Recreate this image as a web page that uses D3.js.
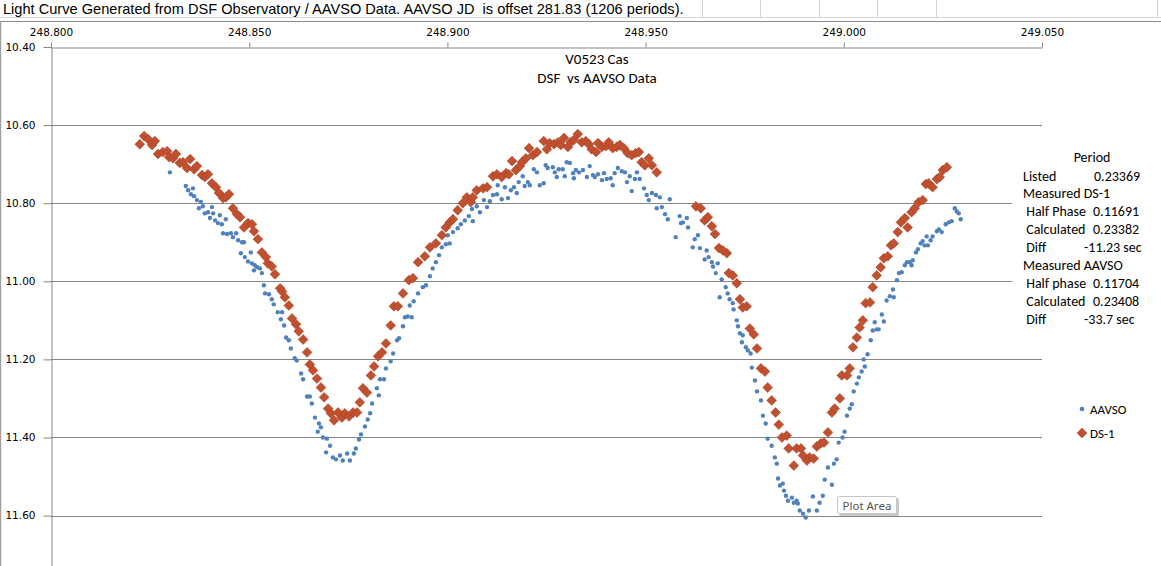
<!DOCTYPE html>
<html><head><meta charset="utf-8">
<script src="https://cdn.jsdelivr.net/npm/d3@7"></script>
<style>
body{margin:0;background:#fff;}
svg{display:block;}
text{white-space:pre;}
</style>
</head><body>
<svg id="c" width="1161" height="566"></svg>
<script>
const headerText = "Light Curve Generated from DSF Observatory / AAVSO Data. AAVSO JD  is offset 281.83 (1206 periods).";
const chartTitle = ["V0523 Cas", "DSF  vs AAVSO Data"];
const xTicks = [248.80, 248.85, 248.90, 248.95, 249.00, 249.05];
const yTicks = [10.4, 10.6, 10.8, 11.0, 11.2, 11.4, 11.6];
const seriesNames = ["AAVSO", "DS-1"];
const noteTitle = "Period";
const noteLabels = ["Listed", "Measured DS-1", " Half Phase", " Calculated", " Diff", "Measured AAVSO", " Half phase", " Calculated", " Diff"];
const noteValues = ["0.23369", "", "0.11691", "0.23382", "-11.23 sec", "", "0.11704", "0.23408", "-33.7 sec"];

const aavso = [
[248.8300,10.721],[248.8340,10.756],[248.8346,10.767],[248.8353,10.777],[248.8358,10.762],[248.8361,10.782],
[248.8368,10.792],[248.8373,10.813],[248.8378,10.797],[248.8383,10.808],[248.8388,10.826],[248.8396,10.823],
[248.8401,10.838],[248.8406,10.810],[248.8409,10.826],[248.8414,10.844],[248.8421,10.851],[248.8426,10.831],
[248.8431,10.854],[248.8434,10.877],[248.8441,10.841],[248.8444,10.879],[248.8454,10.877],[248.8459,10.887],
[248.8467,10.877],[248.8472,10.895],[248.8479,10.928],[248.8482,10.900],[248.8487,10.900],[248.8489,10.938],
[248.8497,10.949],[248.8504,10.926],[248.8507,10.954],[248.8512,10.972],[248.8514,10.959],[248.8520,10.964],
[248.8527,10.967],[248.8532,10.979],[248.8537,11.010],[248.8540,11.031],[248.8550,11.033],[248.8557,11.046],
[248.8562,11.059],[248.8572,11.079],[248.8580,11.097],[248.8583,11.079],[248.8588,11.113],[248.8593,11.144],
[248.8600,11.151],[248.8605,11.172],[248.8615,11.197],[248.8620,11.203],[248.8631,11.236],[248.8636,11.251],
[248.8646,11.295],[248.8653,11.295],[248.8658,11.313],[248.8666,11.349],[248.8673,11.385],[248.8676,11.364],
[248.8681,11.374],[248.8686,11.400],[248.8694,11.438],[248.8696,11.403],[248.8704,11.421],[248.8711,11.451],
[248.8719,11.456],[248.8729,11.446],[248.8736,11.459],[248.8747,11.441],[248.8754,11.459],[248.8764,11.441],
[248.8769,11.428],[248.8777,11.405],[248.8782,11.392],[248.8792,11.372],[248.8799,11.354],[248.8805,11.338],
[248.8810,11.313],[248.8822,11.274],[248.8827,11.292],[248.8830,11.251],[248.8840,11.251],[248.8845,11.223],
[248.8857,11.205],[248.8863,11.185],[248.8873,11.151],[248.8878,11.146],[248.8888,11.115],[248.8893,11.092],
[248.8900,11.090],[248.8905,11.062],[248.8910,11.092],[248.8915,11.051],[248.8926,11.031],[248.8938,11.015],
[248.8946,11.010],[248.8956,10.987],[248.8963,10.967],[248.8971,10.951],[248.8979,10.933],[248.8986,10.913],
[248.8996,10.905],[248.9001,10.882],[248.9006,10.903],[248.9014,10.874],[248.9026,10.864],[248.9034,10.854],
[248.9044,10.844],[248.9054,10.833],[248.9062,10.815],[248.9064,10.846],[248.9074,10.808],[248.9082,10.823],
[248.9092,10.792],[248.9100,10.810],[248.9107,10.795],[248.9115,10.779],[248.9125,10.777],[248.9127,10.754],
[248.9137,10.790],[248.9145,10.759],[248.9153,10.787],[248.9160,10.767],[248.9168,10.759],[248.9175,10.774],
[248.9180,10.746],[248.9190,10.731],[248.9195,10.756],[248.9203,10.746],[248.9208,10.754],[248.9218,10.713],
[248.9226,10.721],[248.9233,10.754],[248.9243,10.749],[248.9248,10.703],[248.9253,10.710],[248.9266,10.708],
[248.9271,10.721],[248.9276,10.733],[248.9281,10.713],[248.9291,10.713],[248.9296,10.731],[248.9301,10.695],
[248.9309,10.697],[248.9317,10.723],[248.9319,10.736],[248.9324,10.715],[248.9332,10.721],[248.9342,10.715],
[248.9352,10.733],[248.9359,10.705],[248.9367,10.728],[248.9372,10.733],[248.9380,10.726],[248.9390,10.741],
[248.9395,10.723],[248.9402,10.738],[248.9412,10.736],[248.9417,10.754],[248.9422,10.723],[248.9430,10.710],
[248.9440,10.718],[248.9448,10.721],[248.9453,10.746],[248.9460,10.731],[248.9465,10.769],[248.9473,10.738],
[248.9478,10.721],[248.9485,10.738],[248.9496,10.762],[248.9503,10.779],[248.9508,10.792],[248.9516,10.774],
[248.9526,10.779],[248.9528,10.813],[248.9536,10.785],[248.9541,10.810],[248.9549,10.828],[248.9556,10.841],
[248.9561,10.790],[248.9576,10.887],[248.9586,10.833],[248.9589,10.851],[248.9594,10.849],[248.9604,10.838],
[248.9607,10.862],[248.9619,10.913],[248.9624,10.892],[248.9632,10.882],[248.9637,10.915],[248.9649,10.944],
[248.9654,10.921],[248.9659,10.938],[248.9667,10.951],[248.9670,10.962],[248.9677,10.979],[248.9682,10.954],
[248.9687,11.041],[248.9692,10.995],[248.9702,11.015],[248.9707,11.031],[248.9712,11.046],[248.9720,11.056],
[248.9722,11.072],[248.9730,11.100],[248.9733,11.115],[248.9738,11.133],[248.9743,11.156],[248.9745,11.138],
[248.9753,11.169],[248.9758,11.177],[248.9765,11.185],[248.9768,11.221],[248.9776,11.254],[248.9781,11.282],
[248.9791,11.305],[248.9796,11.344],[248.9803,11.364],[248.9808,11.403],[248.9818,11.421],[248.9826,11.451],
[248.9831,11.467],[248.9834,11.505],[248.9839,11.523],[248.9846,11.518],[248.9849,11.536],[248.9854,11.549],
[248.9859,11.562],[248.9869,11.554],[248.9874,11.567],[248.9881,11.562],[248.9884,11.569],[248.9889,11.587],
[248.9897,11.595],[248.9904,11.605],[248.9912,11.587],[248.9922,11.551],[248.9932,11.587],[248.9939,11.567],
[248.9947,11.549],[248.9952,11.508],[248.9960,11.477],[248.9970,11.521],[248.9975,11.467],[248.9982,11.456],
[248.9987,11.413],[248.9997,11.400],[249.0002,11.385],[249.0008,11.344],[249.0015,11.326],[249.0020,11.315],
[249.0025,11.282],[249.0033,11.262],[249.0038,11.246],[249.0045,11.231],[249.0050,11.200],[249.0053,11.218],
[249.0060,11.187],[249.0068,11.151],[249.0073,11.126],[249.0078,11.105],[249.0083,11.123],[249.0088,11.123],
[249.0096,11.085],[249.0101,11.103],[249.0108,11.049],[249.0116,11.038],[249.0124,11.021],[249.0126,11.041],
[249.0134,10.997],[249.0139,10.979],[249.0146,10.977],[249.0154,10.959],[249.0159,10.951],[249.0166,10.951],
[249.0171,10.959],[249.0174,10.946],[249.0182,10.926],[249.0187,10.918],[249.0194,10.903],[249.0199,10.897],
[249.0204,10.908],[249.0209,10.885],[249.0212,10.908],[249.0219,10.895],[249.0224,10.885],[249.0235,10.872],
[249.0240,10.867],[249.0247,10.874],[249.0257,10.854],[249.0265,10.849],[249.0272,10.846],[249.0280,10.813],
[249.0285,10.821],[249.0290,10.826],[249.0295,10.841]
];

const ds1 = [
[248.8224,10.649],[248.8235,10.628],[248.8245,10.636],[248.8255,10.651],[248.8262,10.641],[248.8270,10.674],
[248.8282,10.669],[248.8293,10.667],[248.8298,10.682],[248.8308,10.685],[248.8315,10.674],[248.8325,10.697],
[248.8333,10.695],[248.8343,10.710],[248.8351,10.687],[248.8361,10.713],[248.8368,10.705],[248.8381,10.728],
[248.8388,10.733],[248.8396,10.726],[248.8406,10.749],[248.8416,10.759],[248.8424,10.774],[248.8434,10.787],
[248.8441,10.785],[248.8449,10.777],[248.8459,10.813],[248.8469,10.828],[248.8477,10.836],[248.8487,10.862],
[248.8497,10.851],[248.8507,10.854],[248.8512,10.872],[248.8522,10.892],[248.8532,10.926],[248.8542,10.938],
[248.8547,10.954],[248.8557,10.962],[248.8565,10.982],[248.8578,11.018],[248.8583,11.026],[248.8590,11.041],
[248.8600,11.062],[248.8608,11.095],[248.8618,11.110],[248.8625,11.128],[248.8636,11.149],[248.8646,11.182],
[248.8653,11.213],[248.8661,11.228],[248.8671,11.249],[248.8681,11.272],[248.8689,11.297],[248.8699,11.326],
[248.8706,11.338],[248.8714,11.356],[248.8724,11.336],[248.8734,11.349],[248.8741,11.338],[248.8752,11.346],
[248.8762,11.336],[248.8772,11.336],[248.8779,11.310],[248.8787,11.274],[248.8797,11.285],[248.8807,11.241],
[248.8815,11.218],[248.8825,11.192],[248.8835,11.182],[248.8845,11.159],[248.8857,11.113],[248.8865,11.064],
[248.8875,11.064],[248.8888,11.031],[248.8903,10.997],[248.8913,10.992],[248.8926,10.951],[248.8943,10.936],
[248.8956,10.913],[248.8971,10.903],[248.8986,10.882],[248.8996,10.862],[248.9006,10.849],[248.9014,10.841],
[248.9026,10.818],[248.9039,10.800],[248.9049,10.785],[248.9059,10.797],[248.9064,10.785],[248.9074,10.767],
[248.9090,10.762],[248.9100,10.759],[248.9115,10.731],[248.9125,10.726],[248.9137,10.733],[248.9148,10.723],
[248.9155,10.726],[248.9163,10.692],[248.9173,10.715],[248.9183,10.705],[248.9188,10.695],[248.9198,10.685],
[248.9206,10.659],[248.9216,10.677],[248.9226,10.669],[248.9243,10.641],[248.9251,10.662],[248.9258,10.646],
[248.9269,10.649],[248.9279,10.644],[248.9286,10.651],[248.9294,10.633],[248.9304,10.656],[248.9311,10.644],
[248.9319,10.638],[248.9329,10.623],[248.9339,10.644],[248.9349,10.641],[248.9357,10.649],[248.9364,10.662],
[248.9375,10.669],[248.9380,10.646],[248.9390,10.656],[248.9400,10.654],[248.9407,10.644],[248.9417,10.659],
[248.9427,10.656],[248.9435,10.651],[248.9445,10.659],[248.9455,10.672],[248.9465,10.677],[248.9475,10.672],
[248.9483,10.669],[248.9490,10.695],[248.9498,10.703],[248.9508,10.685],[248.9516,10.703],[248.9528,10.721],
[248.9627,10.808],[248.9639,10.813],[248.9649,10.844],[248.9657,10.836],[248.9667,10.859],[248.9675,10.879],
[248.9685,10.915],[248.9695,10.921],[248.9705,10.928],[248.9710,10.979],[248.9720,10.985],[248.9730,11.005],
[248.9738,11.046],[248.9745,11.067],[248.9755,11.064],[248.9763,11.121],[248.9773,11.136],[248.9781,11.172],
[248.9791,11.223],[248.9801,11.231],[248.9808,11.272],[248.9818,11.305],[248.9828,11.336],[248.9836,11.367],
[248.9844,11.400],[248.9856,11.395],[248.9861,11.428],[248.9874,11.472],[248.9881,11.428],[248.9892,11.428],
[248.9897,11.446],[248.9907,11.459],[248.9914,11.451],[248.9924,11.454],[248.9932,11.423],[248.9942,11.415],
[248.9950,11.413],[248.9960,11.387],[248.9970,11.336],[248.9977,11.326],[248.9990,11.300],[248.9995,11.241],
[249.0008,11.241],[249.0015,11.223],[249.0023,11.169],[249.0033,11.144],[249.0040,11.118],[249.0048,11.100],
[249.0055,11.056],[249.0066,11.054],[249.0073,11.015],[249.0083,10.985],[249.0093,10.964],[249.0101,10.941],
[249.0111,10.936],[249.0119,10.908],[249.0126,10.903],[249.0136,10.874],[249.0144,10.849],[249.0154,10.838],
[249.0161,10.862],[249.0171,10.823],[249.0179,10.813],[249.0189,10.797],[249.0199,10.792],[249.0207,10.751],
[249.0214,10.749],[249.0224,10.759],[249.0235,10.738],[249.0242,10.733],[249.0250,10.715],[249.0260,10.708]
];

const svg = d3.select("#c");
const W = 1161, H = 566;
const axisColor = "#868686";
const blue = "#4f81bd";
const red = "#c0502e";
const redStroke = "#a9442a";
const calibri = "Carlito, Lato, 'Open Sans', sans-serif";
const tickFont = "'DejaVu Sans', sans-serif";

svg.append("rect").attr("width", W).attr("height", H).attr("fill", "#fff");

// spreadsheet header row
svg.append("text").attr("x", 3).attr("y", 14)
  .attr("font-family", "'Liberation Sans', Arial, sans-serif").attr("font-size", 14.6)
  .attr("fill", "#000").text(headerText);
svg.append("line").attr("x1", 0).attr("x2", W).attr("y1", 17.5).attr("y2", 17.5)
  .attr("stroke", "#d4d4d4");
[702, 760, 819, 877, 936, 1157].forEach(cx => {
  svg.append("line").attr("x1", cx + 0.5).attr("x2", cx + 0.5).attr("y1", 0).attr("y2", 17)
    .attr("stroke", "#d4d4d4");
});
// chart border
svg.append("line").attr("x1", 0).attr("x2", W).attr("y1", 21.5).attr("y2", 21.5)
  .attr("stroke", "#8c8c8c").attr("stroke-width", 1.2);
svg.append("line").attr("x1", 0.5).attr("x2", 0.5).attr("y1", 21).attr("y2", H)
  .attr("stroke", "#a0a0a0").attr("stroke-width", 1.5);

const x = d3.scaleLinear().domain([248.8, 249.05]).range([51, 1042]);
const y = d3.scaleLinear().domain([10.4, 11.8]).range([47, 47 + 78.1 * 7]);

// gridlines
svg.append("g").selectAll("line").data(yTicks.slice(1)).join("line")
  .attr("x1", x(248.8)).attr("x2", x(249.05))
  .attr("y1", d => Math.round(y(d)) + 0.5).attr("y2", d => Math.round(y(d)) + 0.5)
  .attr("stroke", axisColor).attr("stroke-width", 1);

// top x axis
const xa = svg.append("g").attr("transform", `translate(0,${Math.round(y(10.4)) + 0.5})`)
  .call(d3.axisTop(x).tickValues(xTicks).tickFormat(d3.format(".3f")).tickSize(5).tickSizeOuter(0).tickPadding(7));
xa.select(".domain").attr("stroke", axisColor);
xa.selectAll(".tick line").attr("stroke", axisColor);
xa.selectAll(".tick text").attr("font-family", tickFont).attr("font-size", 10.5).attr("fill", "#000");

// left y axis
const ya = svg.append("g").attr("transform", `translate(${Math.round(x(248.8)) + 0.5},0)`)
  .call(d3.axisLeft(y).tickValues(yTicks).tickFormat(d3.format(".2f")).tickSize(8).tickSizeOuter(0).tickPadding(8));
ya.select(".domain").attr("stroke", axisColor);
ya.selectAll(".tick line").attr("stroke", axisColor);
ya.selectAll(".tick text").attr("font-family", tickFont).attr("font-size", 10.5).attr("fill", "#000");

// title
chartTitle.forEach((t, i) => {
  svg.append("text").attr("x", 597).attr("y", 63.5 + i * 19.5).attr("text-anchor", "middle")
    .attr("font-family", calibri).attr("font-size", 15).attr("fill", "#000").text(t);
});

// series
const diamond = s => `M0,${-s}L${s},0L0,${s}L${-s},0Z`;
svg.append("g").selectAll("circle").data(aavso).join("circle")
  .attr("cx", d => x(d[0])).attr("cy", d => y(d[1])).attr("r", 2.2)
  .attr("fill", blue);
svg.append("g").selectAll("path").data(ds1).join("path")
  .attr("transform", d => `translate(${x(d[0])},${y(d[1])})`)
  .attr("d", diamond(4.9))
  .attr("fill", red).attr("stroke", redStroke).attr("stroke-width", 0.6);

// text box with period notes
svg.append("rect").attr("x", 1012).attr("y", 146).attr("width", 149).attr("height", 184).attr("fill", "#fff");
svg.append("text").attr("x", 1092).attr("y", 162).attr("text-anchor", "middle")
  .attr("font-family", calibri).attr("font-size", 14).text(noteTitle);
noteLabels.forEach((lab, i) => {
  const yy = 180.5 + i * 17.9;
  svg.append("text").attr("x", 1023).attr("y", yy)
    .attr("font-family", calibri).attr("font-size", 14).text(lab);
  if (noteValues[i]) {
    const v = noteValues[i];
    const vx = v.includes("sec") ? 1084 : (i === 0 ? 1094 : 1093);
    svg.append("text").attr("x", vx).attr("y", yy)
      .attr("font-family", calibri).attr("font-size", 14).text(v);
  }
});

// legend
const lg = svg.append("g");
lg.append("circle").attr("cx", 1082).attr("cy", 409).attr("r", 2.3).attr("fill", blue);
lg.append("text").attr("x", 1090).attr("y", 413.5).attr("font-family", calibri).attr("font-size", 13).text(seriesNames[0]);
lg.append("path").attr("transform", "translate(1082,433)").attr("d", diamond(4.9))
  .attr("fill", red).attr("stroke", redStroke).attr("stroke-width", 0.6);
lg.append("text").attr("x", 1090).attr("y", 437.5).attr("font-family", calibri).attr("font-size", 13).text(seriesNames[1]);

// "Plot Area" tooltip
const tt = svg.append("g");
tt.append("rect").attr("x", 839).attr("y", 498).attr("width", 60).attr("height", 18).attr("rx", 2)
  .attr("fill", "#9a9a9a").attr("opacity", 0.55);
tt.append("rect").attr("x", 837.5).attr("y", 496.5).attr("width", 59).attr("height", 17).attr("rx", 2)
  .attr("fill", "#fff").attr("stroke", "#c6c6c6");
tt.append("text").attr("x", 842.5).attr("y", 509.5).attr("font-family", "'Noto Sans', 'Open Sans', sans-serif")
  .attr("font-size", 11.5).attr("fill", "#555").text("Plot Area");
</script>
</body></html>
